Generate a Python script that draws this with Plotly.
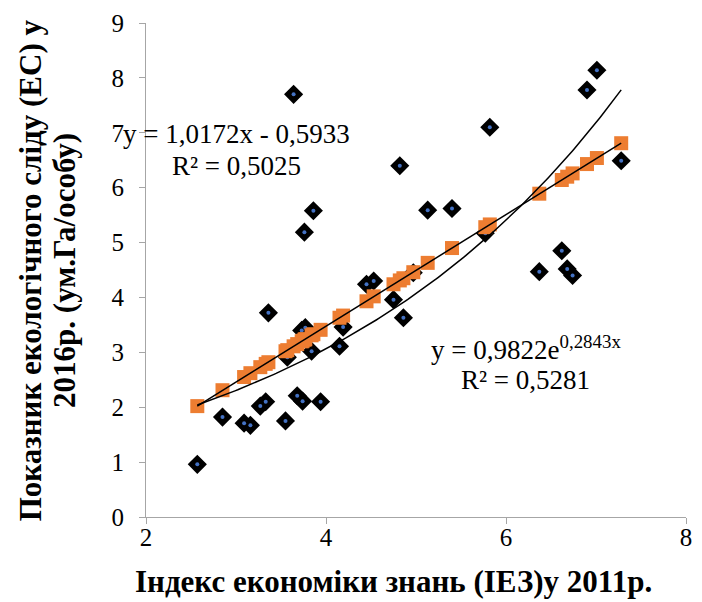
import numpy as np
import plotly.graph_objects as go

# Black diamonds: observed data
iez_2011 = [2.57, 2.85, 3.09, 3.16, 3.55, 3.27, 3.33, 3.68, 3.74, 3.94,
            3.36, 3.57, 3.84, 3.73, 3.77, 4.19, 4.15, 4.45, 4.53, 4.75,
            4.86, 4.97, 6.37, 6.68, 6.74, 6.62, 7.01, 6.90, 7.28, 5.82,
            4.82, 5.13, 5.40, 5.77, 3.64, 3.86, 3.76]
ec_2016 = [0.96, 1.82, 1.71, 1.67, 1.75, 2.02, 2.10, 2.21, 2.11, 2.10,
           3.72, 2.91, 3.02, 3.40, 3.45, 3.46, 3.11, 4.24, 4.30, 3.96,
           3.63, 4.45, 4.47, 4.52, 4.40, 4.85, 8.14, 7.78, 6.49, 7.10,
           6.40, 5.59, 5.62, 5.17, 7.70, 5.58, 5.19]
# Orange squares: values shown by the linear fit at each x
ec_fitted = [2.02, 2.31, 2.55, 2.62, 3.02, 2.73, 2.79, 3.15, 3.21, 3.41,
             2.82, 3.04, 3.31, 3.20, 3.24, 3.67, 3.63, 3.93, 4.02, 4.24,
             4.35, 4.46, 5.89, 6.20, 6.26, 6.14, 6.54, 6.43, 6.81, 5.33,
             4.31, 4.63, 4.90, 5.28, 3.11, 3.33, 3.23]

lin_a, lin_b = 1.0172, -0.5933
exp_a, exp_b = 0.9822, 0.2843

x_tick_vals = [2, 4, 6, 8]
y_tick_vals = list(range(0, 10))

FONT = "Liberation Serif, Times New Roman, serif"

xmin, xmax = min(iez_2011), max(iez_2011)
xs = np.linspace(xmin, xmax, 200)

fig = go.Figure()
fig.add_trace(go.Scatter(x=iez_2011, y=ec_2016, mode="markers",
                         marker=dict(symbol="diamond", size=12, color="black",
                                     line=dict(color="black", width=2.5)),
                         showlegend=False, hoverinfo="skip"))
fig.add_trace(go.Scatter(x=iez_2011, y=ec_2016, mode="markers",
                         marker=dict(symbol="circle", size=4, color="#4472C4"),
                         showlegend=False, hoverinfo="skip"))
fig.add_trace(go.Scatter(x=iez_2011, y=ec_fitted, mode="markers",
                         marker=dict(symbol="square", size=14, color="#ED7D31"),
                         showlegend=False, hoverinfo="skip"))
fig.add_trace(go.Scatter(x=[xmin, xmax], y=[lin_a * xmin + lin_b, lin_a * xmax + lin_b],
                         mode="lines", line=dict(color="black", width=1.5),
                         showlegend=False, hoverinfo="skip"))
fig.add_trace(go.Scatter(x=xs, y=exp_a * np.exp(exp_b * xs),
                         mode="lines", line=dict(color="black", width=1.5),
                         showlegend=False, hoverinfo="skip"))

axis_common = dict(showline=True, linecolor="#A6A6A6", linewidth=1,
                   ticks="outside", ticklen=6, tickcolor="#A6A6A6",
                   showgrid=False, zeroline=False,
                   tickfont=dict(family=FONT, size=25, color="black"))

ann_font = dict(family=FONT, size=27, color="black")
title_font = dict(family=FONT, size=31, color="black")

fig.update_layout(
    width=702, height=602,
    margin=dict(l=146, r=10, t=22, b=85),
    paper_bgcolor="white", plot_bgcolor="white",
    xaxis=dict(range=[2, 8], tickvals=x_tick_vals, ticklabelstandoff=-8, **axis_common),
    yaxis=dict(range=[0, 9], tickvals=y_tick_vals, ticklabelstandoff=10, **axis_common),
    annotations=[
        dict(x=3.0, y=6.98, xref="x", yref="y", text="y = 1,0172x - 0,5933",
             showarrow=False, font=ann_font),
        dict(x=3.0, y=6.40, xref="x", yref="y", text="R² = 0,5025",
             showarrow=False, font=ann_font),
        dict(x=6.22, y=3.08, xref="x", yref="y", text="y = 0,9822e<sup>0,2843x</sup>",
             showarrow=False, font=ann_font),
        dict(x=6.22, y=2.49, xref="x", yref="y", text="R² = 0,5281",
             showarrow=False, font=ann_font),
        dict(x=(396 - 146) / 546, y=-(582 - 517) / 495, xref="paper", yref="paper",
             text="<b>Індекс економіки знань (ІЕЗ)у 2011р.</b>",
             showarrow=False, xanchor="center", yanchor="middle", font=title_font),
        dict(x=(29 - 146) / 546, y=0.5, xref="paper", yref="paper", textangle=-90,
             text="<b>Показник екологічного сліду (ЕС) у</b>",
             showarrow=False, xanchor="center", yanchor="middle", font=title_font),
        dict(x=(63 - 146) / 546, y=0.5, xref="paper", yref="paper", textangle=-90,
             text="<b>2016р. (ум.Га/особу)</b>",
             showarrow=False, xanchor="center", yanchor="middle", font=title_font),
    ],
)

fig.write_html("out.html",
               config={"displayModeBar": False},
               post_script="document.body.style.margin='0';"
                           "document.body.style.overflow='hidden';")
